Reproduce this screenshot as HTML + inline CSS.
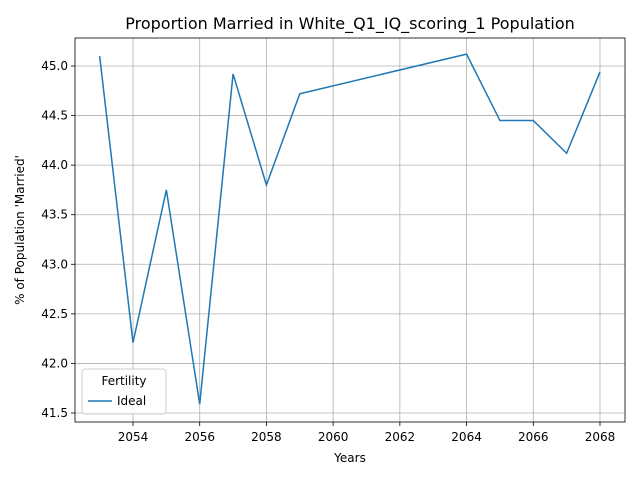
<!DOCTYPE html>
<html><head><meta charset="utf-8"><style>
body{margin:0;background:#fff;font-family:"Liberation Sans","DejaVu Sans",sans-serif}
svg text{font-family:"DejaVu Sans","Liberation Sans",sans-serif}
</style></head><body>
<svg id="chart" width="640" height="480" xmlns="http://www.w3.org/2000/svg">
<rect width="640" height="480" fill="#fff"/>
<text x="350" y="29" font-size="16" text-anchor="middle">Proportion Married in White_Q1_IQ_scoring_1 Population</text>
<g id="grid"></g>
<g id="ticks"></g>
<path id="line" fill="none" stroke="#1f77b4" stroke-width="1.5"/>
<rect x="75" y="38" width="550" height="384" fill="none" stroke="#000" stroke-width="0.8"/>
<text x="350" y="462" font-size="12" text-anchor="middle">Years</text>
<text transform="translate(24,230) rotate(-90)" font-size="12" text-anchor="middle">% of Population 'Married'</text>
<g>
<rect x="82" y="369" width="84" height="45" rx="3" fill="#fff" fill-opacity="0.8" stroke="#ccc"/>
<text x="124" y="385" font-size="12" text-anchor="middle">Fertility</text>
<line x1="88" y1="401" x2="112" y2="401" stroke="#1f77b4" stroke-width="1.5"/>
<text x="117" y="405" font-size="12">Ideal</text>
</g>
</svg>
<script>
const years=[2053,2054,2055,2056,2057,2058,2059,2064,2065,2066,2067,2068];
const married=[45.10,42.21,43.75,41.59,44.92,43.80,44.72,45.12,44.45,44.45,44.12,44.94];
const xTicks=[2054,2056,2058,2060,2062,2064,2066,2068];
const yTicks=[41.5,42.0,42.5,43.0,43.5,44.0,44.5,45.0];
const ns="http://www.w3.org/2000/svg";
const x=v=>133+(v-2054)*(600-133)/14;
const y=v=>66+(45-v)*(413-66)/3.5;
const grid=document.getElementById('grid'),ticks=document.getElementById('ticks');
function mk(t,a,p){const e=document.createElementNS(ns,t);for(const k in a)e.setAttribute(k,a[k]);p.appendChild(e);return e;}
xTicks.forEach(v=>{
 const g=mk('line',{x1:x(v),x2:x(v),y1:38,y2:422,stroke:'#b0b0b0','stroke-width':0.8},grid);
 
 
 mk('line',{x1:x(v),x2:x(v),y1:422,y2:426,stroke:'#000','stroke-width':0.8},ticks);
 const t=mk('text',{x:x(v),y:441,'font-size':12,'text-anchor':'middle'},ticks);t.textContent=v;
 
 
});
yTicks.forEach(v=>{
 const g=mk('line',{x1:75,x2:625,y1:y(v),y2:y(v),stroke:'#b0b0b0','stroke-width':0.8},grid);
 
 
 mk('line',{x1:71,x2:75,y1:y(v),y2:y(v),stroke:'#000','stroke-width':0.8},ticks);
 const t=mk('text',{x:68,y:y(v)+4,'font-size':12,'text-anchor':'end'},ticks);t.textContent=v.toFixed(1);
 
 
});
document.getElementById('line').setAttribute('d',years.map((v,i)=>(i?'L':'M')+x(v)+','+y(married[i])).join(''));
</script>
</body></html>
